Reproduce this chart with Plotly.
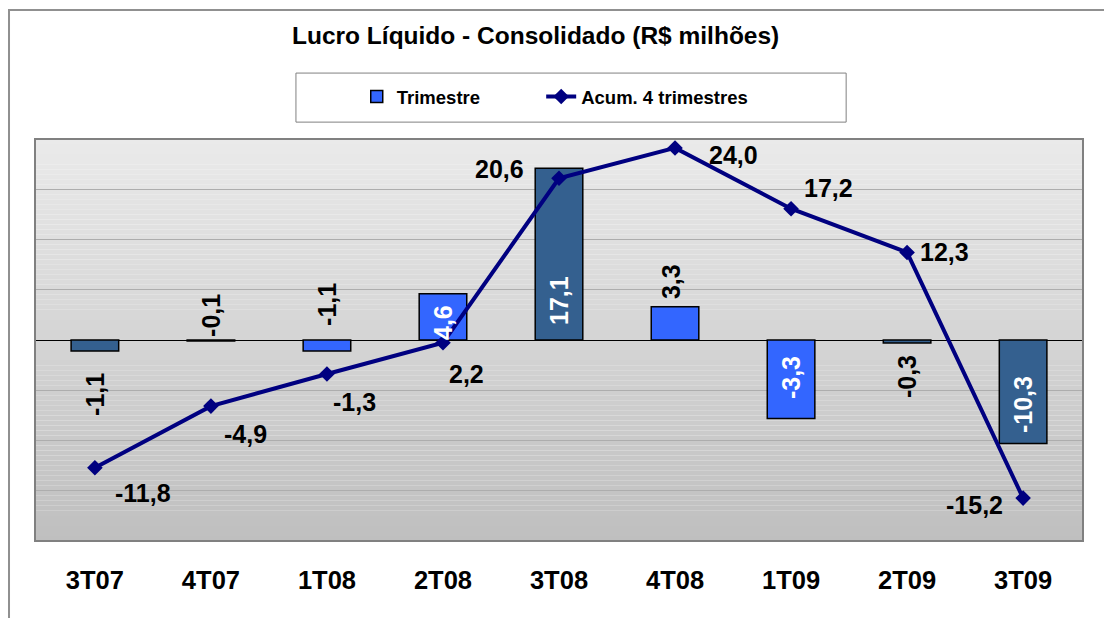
import plotly.graph_objects as go

categories = ["3T07", "4T07", "1T08", "2T08", "3T08", "4T08", "1T09", "2T09", "3T09"]
# bar heights as drawn in the original (1T09 is drawn at -7,8 though labelled -3,3)
trimestre = [-1.1, -0.1, -1.1, 4.6, 17.1, 3.3, -7.8, -0.3, -10.3]
trim_labels = ["-1,1", "-0,1", "-1,1", "4,6", "17,1", "3,3", "-3,3", "-0,3", "-10,3"]
acum4 = [-11.8, -4.9, -1.3, 2.2, 20.6, 24.0, 17.2, 12.3, -15.2]
acum_labels = ["-11,8", "-4,9", "-1,3", "2,2", "20,6", "24,0", "17,2", "12,3", "-15,2"]

DARK = "#34608F"
BRIGHT = "#3366FF"
NAVY = "#000080"
bar_colors = [DARK, DARK, BRIGHT, BRIGHT, DARK, BRIGHT, BRIGHT, DARK, DARK]
bar_label_colors = ["black", "black", "black", "white", "white", "black", "white", "black", "white"]
# label offsets (px, from the zero line, label centre)
bar_label_shift = [-54, 25, 36, 18, 39, 58, -38, -37, -65]
bar_label_xshift = [0, 0, 0, 0, 0, -4, 0, 0, 0]
# line label offsets (px, from the marker, label centre)
acum_dx = [48, 35, 28, 24, -60, 58, 37, 37, -49]
acum_dy = [-25, -28, -28, -31, 9, -7, 21, 0, -7]

FONT = "Liberation Sans, Arial, Helvetica, sans-serif"

fig = go.Figure()

fig.add_trace(go.Bar(
    x=categories, y=trimestre, name="Trimestre",
    marker=dict(color=bar_colors, line=dict(color="black", width=1.5)),
    width=0.41, showlegend=False, yaxis="y",
))
# legend entry for the bars (bright colour as in the original legend)
fig.add_trace(go.Bar(
    x=[categories[0]], y=[None], name="Trimestre",
    marker=dict(color=BRIGHT, line=dict(color="black", width=1.5)),
    showlegend=True, yaxis="y", legend="legend",
))
fig.add_trace(go.Scatter(
    x=categories, y=acum4, name="Acum. 4 trimestres", yaxis="y2",
    mode="lines+markers",
    line=dict(color=NAVY, width=4),
    marker=dict(symbol="diamond", size=12, color=NAVY),
    legend="legend2", cliponaxis=False,
))

annotations = []
for cat, lab, ys, xs, col in zip(categories, trim_labels, bar_label_shift, bar_label_xshift, bar_label_colors):
    annotations.append(dict(
        x=cat, y=0, xref="x", yref="y", text=lab, showarrow=False,
        textangle=-90, xanchor="center", yanchor="middle", yshift=ys, xshift=xs,
        font=dict(family=FONT, size=25, color=col, weight="bold"),
    ))
for cat, v, lab, dx, dy in zip(categories, acum4, acum_labels, acum_dx, acum_dy):
    annotations.append(dict(
        x=cat, y=v, xref="x", yref="y2", text=lab, showarrow=False,
        xanchor="center", yanchor="middle", xshift=dx, yshift=dy,
        font=dict(family=FONT, size=25, color="black", weight="bold"),
    ))

annotations.append(dict(
    x=0.478, y=1.257, xref="paper", yref="paper", yanchor="middle",
    text="<b>Lucro Líquido - Consolidado (R$ milhões)</b>", showarrow=False,
    font=dict(family=FONT, size=24.5, color="black"),
))

shapes = []
# gradient plot background
N = 80
top = (234, 234, 234)
bot = (191, 191, 191)
for i in range(N):
    t = (i + 0.5) / N
    c = tuple(round(top[k] + (bot[k] - top[k]) * t) for k in range(3))
    shapes.append(dict(
        type="rect", xref="x domain", yref="y domain",
        x0=0, x1=1, y0=1 - (i + 1) / N, y1=1 - i / N,
        fillcolor="rgb(%d,%d,%d)" % c, line=dict(width=0), layer="below",
    ))
# plot area border
shapes.append(dict(type="rect", xref="paper", yref="paper", x0=0, x1=1, y0=0, y1=1,
                   line=dict(color="#808080", width=2), layer="above"))
# legend box
shapes.append(dict(type="rect", xref="paper", yref="paper",
                   x0=0.249, x1=0.774, y0=1.042, y1=1.164,
                   line=dict(color="#808080", width=1), fillcolor="white", layer="below"))
# outer chart frame
shapes.append(dict(type="rect", xref="paper", yref="paper",
                   x0=-0.0248, x1=1.05, y0=-0.25, y1=1.3209,
                   line=dict(color="#909090", width=2)))

legend_common = dict(orientation="h", yanchor="middle", y=1.1045, xanchor="left",
                     bgcolor="rgba(0,0,0,0)", borderwidth=0,
                     font=dict(family=FONT, size=18.5, color="black", weight="bold"))

fig.update_layout(
    width=1112, height=618,
    margin=dict(l=27, r=37, t=131, b=85),
    paper_bgcolor="white", plot_bgcolor="rgba(0,0,0,0)",
    font=dict(family=FONT, color="black"),
    barmode="overlay",
    showlegend=True,
    legend=dict(x=0.307, **legend_common),
    legend2=dict(x=0.483, **legend_common),
    xaxis=dict(showgrid=False, ticks="outside", ticklen=16, tickcolor="rgba(0,0,0,0)",
               tickfont=dict(family=FONT, size=25.5, color="black", weight="bold"),
               showline=False, zeroline=False),
    yaxis=dict(range=[-20, 20], dtick=5, showgrid=True, gridcolor="#ADADAD", gridwidth=1,
               zeroline=True, zerolinecolor="black", zerolinewidth=1,
               showticklabels=False, ticks="", showline=False),
    yaxis2=dict(range=[-20, 25], overlaying="y", side="right", showgrid=False,
                zeroline=False, showticklabels=False, ticks="", showline=False),
    annotations=annotations,
    shapes=shapes,
)

fig.write_html("out.html")
